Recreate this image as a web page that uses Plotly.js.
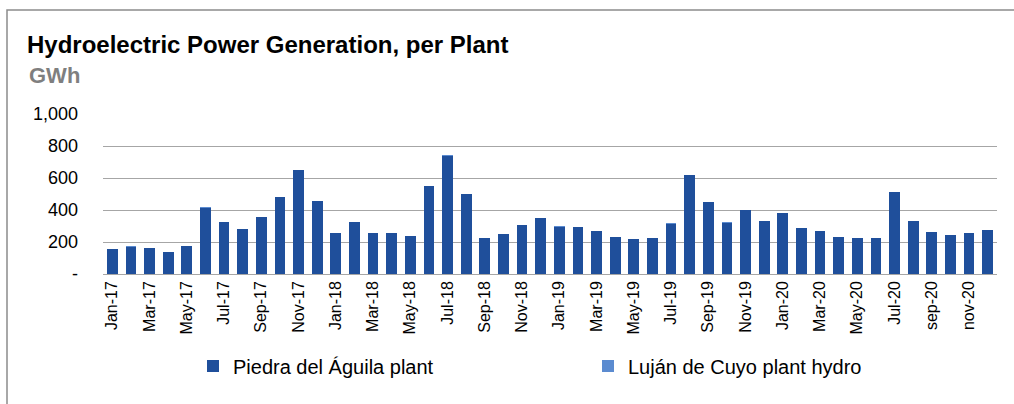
<!DOCTYPE html>
<html>
<head>
<meta charset="utf-8">
<script src="https://cdn.plot.ly/plotly-3.0.1.min.js"></script>
<style>html,body{margin:0;padding:0;background:#fff;}#chart{width:1014px;height:404px;}</style>
</head>
<body>
<div id="chart"></div>
<script>
var months = ["Jan-17","Feb-17","Mar-17","Apr-17","May-17","Jun-17","Jul-17","Aug-17","Sep-17","Oct-17","Nov-17","Dec-17",
"Jan-18","Feb-18","Mar-18","Apr-18","May-18","Jun-18","Jul-18","Aug-18","Sep-18","Oct-18","Nov-18","Dec-18",
"Jan-19","Feb-19","Mar-19","Apr-19","May-19","Jun-19","Jul-19","Aug-19","Sep-19","Oct-19","Nov-19","Dec-19",
"Jan-20","Feb-20","Mar-20","Apr-20","May-20","Jun-20","Jul-20","Aug-20","sep-20","oct-20","nov-20","dec-20"];
var piedraDelAguila = [156,171,160,137,177,415,327,279,356,483,652,458,
254,327,258,258,235,550,740,498,223,248,308,350,
296,292,269,233,217,225,315,619,450,321,400,333,
383,288,269,229,223,223,510,333,263,242,258,273];
var lujanDeCuyo = [1,1,1,1,1,1,1,1,1,1,1,1,
1,1,1,1,1,1,1,1,1,1,1,1,
1,1,1,1,1,1,1,1,1,1,1,1,
1,1,1,1,1,1,1,1,1,1,1,1];
var yTickVals = [0,200,400,600,800,1000];
var yTickText = ["-","200","400","600","800","1,000"];
var xTickVals = months.filter(function(m,i){return i%2===0;});

var font = "Liberation Sans, Arial, sans-serif";
var data = [
  {type:"bar", name:"Piedra del Águila plant", x:months, y:piedraDelAguila, marker:{color:"#1f4f9b"}},
  {type:"bar", name:"Luján de Cuyo plant hydro", x:months, y:lujanDeCuyo, marker:{color:"#5b8bd0"}}
];
var layout = {
  width:1014, height:404,
  margin:{l:103, r:17, t:114, b:130},
  paper_bgcolor:"#fff", plot_bgcolor:"#fff",
  barmode:"stack", bargap:0.42,
  font:{family:font, color:"#000"},
  title:{text:"<b>Hydroelectric Power Generation, per Plant</b>", font:{size:24, color:"#000", family:font},
    xref:"container", yref:"container", x:27/1014, xanchor:"left", y:1-45/404, yanchor:"middle"},
  annotations:[{text:"<b>GWh</b>", xref:"paper", yref:"paper", x:(27-103)/894, xanchor:"left",
    y:(274-75)/160, yanchor:"middle", showarrow:false, font:{size:22, color:"#7f7f7f", family:font}}],
  xaxis:{type:"category", categoryorder:"array", categoryarray:months, tickvals:xTickVals,
    tickangle:-90, tickfont:{size:16, color:"#000"}, showgrid:false, showline:false, ticks:"", ticklabelstandoff:3,
    range:[-0.5,47.5], fixedrange:true},
  yaxis:{range:[0,1000], tickvals:yTickVals, ticktext:yTickText, tickfont:{size:18, color:"#000"},
    showgrid:true, gridcolor:"#a6a6a6", gridwidth:1, zeroline:true, zerolinecolor:"#a6a6a6", zerolinewidth:1,
    showline:false, ticks:"", ticklabelstandoff:24, fixedrange:true},
  showlegend:true,
  legend:{orientation:"h", traceorder:"normal", x:(193-103)/894, xanchor:"left", y:(274-366)/160, yanchor:"middle",
    font:{size:20, color:"#000"}, entrywidthmode:"pixels", entrywidth:350, bgcolor:"rgba(0,0,0,0)"},
  shapes:[{type:"rect", xref:"paper", yref:"paper", x0:(7-103)/894, x1:1.2, y0:-2, y1:(274-10)/160,
    line:{color:"#8c8c8c", width:1.5}, fillcolor:"rgba(0,0,0,0)", layer:"below"}]
};
Plotly.newPlot("chart", data, layout, {displayModeBar:false, staticPlot:true});
</script>
</body>
</html>
